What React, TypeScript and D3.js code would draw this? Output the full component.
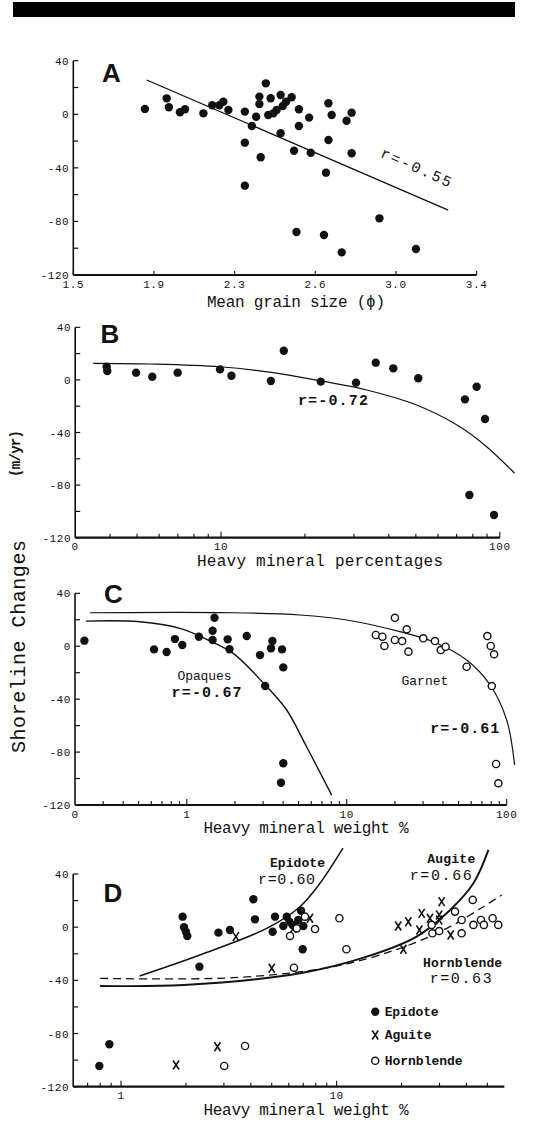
import React from 'react';
import * as d3 from 'd3';

const W = 549;
const H = 1122;
const MONO = '"Liberation Mono", "DejaVu Sans Mono", monospace';
const SANS = '"Liberation Sans", Arial, sans-serif';

// ---- panel A: mean grain size
const grainTicks = [1.5, 1.9, 2.3, 2.6, 3.0, 3.4];
const grainSize = [1.855, 1.963, 1.974, 2.029, 2.054, 2.145, 2.189, 2.224, 2.244, 2.269, 2.338, 2.38, 2.364, 2.338, 2.338, 2.397, 2.416, 2.392, 2.392, 2.434, 2.425, 2.444, 2.456, 2.471, 2.479, 2.491, 2.512, 2.471, 2.521, 2.539, 2.539, 2.53, 2.577, 2.583, 2.665, 2.681, 2.665, 2.653, 2.643, 2.731, 2.755, 2.78, 2.78, 2.918, 3.099];
const grainShore = [4, 11.9, 5.2, 1.5, 3.7, 0.7, 6.7, 6.7, 9.4, 3.2, 2, -1.8, -8.7, -21.2, -53.3, -32.1, 23.1, 13.2, 7.7, 12, -0.5, 0.7, 3.2, 14.4, 6.2, 9.4, 12.7, -14.2, -27.2, 3.7, -8.7, -87.9, -2.5, -28.7, 8.2, -0.5, -19.2, -43.6, -90.1, -103.1, -4.8, 1.2, -29.1, -77.7, -100.6];
const grainFitX = [1.864, 3.259];
const grainFitY = [25.6, -71.5];

// ---- panel B: heavy mineral percentages
const pctValue = [3.89, 3.91, 4.96, 5.67, 6.99, 9.92, 10.9, 15.1, 16.8, 22.8, 30.5, 35.9, 41.5, 51.0, 75.0, 82.6, 88.5, 77.8, 95.3];
const pctShore = [10, 6.8, 5.5, 2.4, 5.5, 8, 3.2, -0.8, 22.2, -1.3, -2.1, 13.1, 8.8, 1.2, -14.8, -5.2, -29.7, -87.5, -102.7];
const pctFitX = [3.48, 5.56, 9.92, 15.4, 22.8, 33.3, 50.3, 71.9, 89.7, 113];
const pctFitY = [12.6, 12.1, 10, 5.5, -0.8, -7.7, -19.1, -35.6, -50.8, -71];

// ---- panel C: opaques and garnet
const opqWeight = [0.229, 0.624, 0.748, 0.843, 0.937, 1.19, 1.49, 1.45, 1.45, 1.8, 1.85, 2.37, 2.87, 3.09, 3.43, 3.36, 3.94, 4.01, 4.01, 3.88];
const opqShore = [4.2, -2.4, -4.4, 5.4, 0.9, 7.2, 21.5, 11.7, 4.7, 5.2, -2.3, 7.7, -6.7, -30.1, 3.9, -1.6, -2.4, -16, -88.5, -103.2];
const grtWeight = [15.2, 16.7, 17.2, 20, 20, 22.2, 23.7, 24.3, 30.1, 35.6, 38.7, 41.5, 56.2, 75.7, 79.5, 83.4, 80.7, 85.8, 88.7];
const grtShore = [8.5, 7.2, 0.2, 21.5, 4.7, 3.9, 12.8, -4.1, 6, 3.9, -2.9, -0.4, -15.5, 7.7, 0.2, -6.1, -30.1, -89, -103.6];
const opqFitX = [0.234, 0.509, 0.907, 1.33, 1.95, 3.09, 4.21, 5.61, 8.05];
const opqFitY = [19, 18.5, 13.5, 5.2, -5.4, -29.3, -48.2, -76, -112.5];
const grtFitX = [0.248, 1.95, 5.1, 10, 21.5, 34.8, 56.2, 78.8, 100, 112];
const grtFitY = [25.3, 25.3, 23.6, 19.8, 11, 3.4, -10.4, -29.3, -55.8, -89.8];

// ---- panel D: epidote, augite, hornblende
const epiWeight = [1.93, 1.96, 2.0, 2.03, 2.31, 2.83, 3.2, 4.11, 4.18, 5.05, 5.18, 5.66, 5.87, 6.04, 6.25, 6.64, 6.84, 7.01, 6.96, 0.883, 0.793];
const epiShore = [7.9, -0.1, -3.4, -6.6, -29.7, -4.1, -2.1, 21, 5.9, -3.4, 7.9, 0.9, 7.9, 4.1, 1.7, 5.4, 12.4, 0.9, -16.6, -88.1, -104.4];
const augWeight = [3.41, 5.0, 6.3, 7.52, 19.3, 21.5, 20.4, 24.2, 24.8, 27.1, 30.7, 29.9, 29.9, 33.8, 1.8, 2.8];
const augShore = [-7.1, -30.9, -0.9, 6.7, 0.9, 4.1, -16.6, -2.1, 10.4, 6.7, 19.2, 9.2, 5.4, -5.9, -103.7, -89.9];
const hbWeight = [6.08, 6.34, 6.53, 7.13, 7.94, 10.3, 11.1, 27.6, 27.8, 29.9, 35.4, 38.0, 38.0, 42.8, 43.1, 46.7, 48.2, 52.9, 56.2, 3.76, 3.01];
const hbShore = [-6.6, -30.5, -0.9, 7.9, -1.4, 6.7, -16.6, 1.7, -4.6, -2.9, 11.7, 5.4, -4.6, 20.5, 1.7, 5.4, 1.7, 6.7, 1.7, -89.4, -104.4];
const epiFitX = [1.22, 2.32, 4.74, 6.76, 8.37, 10.7];
const epiFitY = [-36.7, -20.9, -0.9, 15.4, 33, 59.4];
const augFitX = [0.8, 1.95, 6.76, 13.8, 23.5, 33.6, 43.1, 50.6];
const augFitY = [-44.2, -43.5, -34.7, -22.2, -7.1, 12.9, 33, 58.1];
const hbFitX = [0.8, 3.32, 9.65, 19.7, 33.6, 47.9, 58.3];
const hbFitY = [-38.5, -38, -29.7, -15.9, 0.4, 15.4, 24.2];

const yTicks = [40, 20, 0, -20, -40, -60, -80, -100, -120];
const yLabels = [40, 0, -40, -80, -120];

const bTicks = [4, 5, 6, 7, 8, 9, 10, 20, 30, 40, 50, 60, 70, 80, 90, 100];
const cTicks = [0.3, 0.4, 0.5, 0.6, 0.7, 0.8, 0.9, 1, 2, 3, 4, 5, 6, 7, 8, 9, 10, 20, 30, 40, 50, 60, 70, 80, 90, 100];
const dTicks = [0.7, 0.8, 0.9, 1, 2, 3, 4, 5, 6, 7, 8, 9, 10, 20, 30, 40, 50];

type Pt = [number, number];
type Sc = (v: number) => number;
const zip = (a: number[], b: number[]): Pt[] => a.map((v, i) => [v, b[i]]);
const yScale = (top: number, bottom: number) => d3.scaleLinear().domain([-120, 40]).range([bottom, top]);

const xA = d3.scaleLinear().domain(grainTicks).range(grainTicks.map((_, i) => 73.3 + i * 80.67));
const yA = yScale(60.7, 275);
const xB = d3.scaleLog().domain([3, 100]).range([75.2, 499.8]);
const yB = yScale(327.3, 537.7);
const xC = d3.scaleLog().domain([0.2, 100]).range([75, 506.7]);
const yC = yScale(593.3, 805);
const xD = d3.scaleLog().domain([0.6, 60]).range([73.2, 504.4]);
const yD = yScale(874, 1086.7);

function Axes({ x, y, ticks, labels, major }: { x: any; y: any; ticks: number[]; labels: { v: number; t: string }[]; major: number[] }) {
  const x0 = x.range()[0];
  const x1 = x.range()[x.range().length - 1];
  const yb = y(-120);
  return (
    <g stroke="#111" fill="none">
      <line x1={x0} x2={x0} y1={y(40)} y2={yb} strokeWidth={1.6} />
      {yTicks.map(t => (
        <line key={t} x1={x0} x2={x0 + 5} y1={y(t)} y2={y(t)} strokeWidth={1.2} />
      ))}
      {yLabels.map(t => (
        <text key={t} x={x0 - 4} y={y(t) + 4} textAnchor="end" fontFamily={MONO} fontSize={11} fill="#111" stroke="none" letterSpacing={0.6}>
          {t}
        </text>
      ))}
      <line x1={x0} x2={x1} y1={yb} y2={yb} strokeWidth={2.2} />
      {ticks.map(t => (
        <line key={t} x1={x(t)} x2={x(t)} y1={yb} y2={yb - (major.includes(t) ? 6 : 4)} strokeWidth={1.1} />
      ))}
      {labels.map(l => (
        <text key={l.t} x={x(l.v)} y={yb + 12.5} textAnchor="middle" fontFamily={MONO} fontSize={11} fill="#111" stroke="none" letterSpacing={0.6}>
          {l.t}
        </text>
      ))}
    </g>
  );
}

function Dots({ pts, x, y, kind }: { pts: Pt[]; x: Sc; y: Sc; kind: 'fill' | 'open' | 'cross' }) {
  return (
    <g>
      {pts.map(([a, b], i) => {
        const cx = x(a);
        const cy = y(b);
        if (kind === 'cross')
          return <path key={i} d={`M${cx - 3},${cy - 4.5}L${cx + 3},${cy + 4.5}M${cx + 3},${cy - 4.5}L${cx - 3},${cy + 4.5}`} stroke="#111" strokeWidth={1.6} fill="none" />;
        if (kind === 'open') return <circle key={i} cx={cx} cy={cy} r={3.6} fill="#fff" stroke="#111" strokeWidth={1.4} />;
        return <circle key={i} cx={cx} cy={cy} r={4.2} fill="#111" />;
      })}
    </g>
  );
}

function Fit({ xs, ys, x, y, width = 1.2, dash }: { xs: number[]; ys: number[]; x: Sc; y: Sc; width?: number; dash?: string }) {
  const line = d3.line<Pt>().x(d => x(d[0])).y(d => y(d[1])).curve(d3.curveCatmullRom.alpha(0.5));
  return <path d={line(zip(xs, ys)) || ''} fill="none" stroke="#111" strokeWidth={width} strokeDasharray={dash} />;
}

function Note({ x, y, t, len, size = 14, bold = true, rotate = 0 }: { x: number; y: number; t: string; len?: number; size?: number; bold?: boolean; rotate?: number }) {
  return (
    <text x={x} y={y} textAnchor="middle" fontFamily={MONO} fontSize={size} fontWeight={bold ? 'bold' : 'normal'} fill="#111"
      textLength={len} lengthAdjust="spacing" transform={rotate ? `rotate(${rotate},${x},${y})` : undefined}>
      {t}
    </text>
  );
}

const Letter = ({ x, y, t }: { x: number; y: number; t: string }) => (
  <text x={x} y={y} textAnchor="middle" fontFamily={SANS} fontWeight="bold" fontSize={26} fill="#111">{t}</text>
);

export default function App() {
  return (
    <div style={{ position: 'absolute', left: 0, top: 0, background: '#fff' }}>
      <svg width={W} height={H} viewBox={`0 0 ${W} ${H}`} style={{ display: 'block' }}>
        <rect x={0} y={0} width={W} height={H} fill="#fff" />
        <rect x={13} y={2} width={502} height={15} fill="#000" />

        {/* A */}
        <Axes x={xA} y={yA} ticks={grainTicks} labels={grainTicks.map(v => ({ v, t: v.toFixed(1) }))} major={[]} />
        <Fit xs={grainFitX} ys={grainFitY} x={xA} y={yA} width={1.3} />
        <Dots pts={zip(grainSize, grainShore)} x={xA} y={yA} kind="fill" />
        <Letter x={111.5} y={82} t="A" />
        <Note x={xA(3.09)} y={yA(-43)} t="r=-0.55" len={76} size={15} bold={false} rotate={24} />
        <Note x={296} y={307} t="Mean grain size (ϕ)" len={178} size={16} bold={false} />

        {/* B */}
        <Axes x={xB} y={yB} ticks={bTicks} labels={[{ v: 3, t: '0' }, { v: 10, t: '10' }, { v: 100, t: '100' }]} major={[10, 100]} />
        <Fit xs={pctFitX} ys={pctFitY} x={xB} y={yB} />
        <Dots pts={zip(pctValue, pctShore)} x={xB} y={yB} kind="fill" />
        <Letter x={110} y={343} t="B" />
        <Note x={xB(25.2)} y={yB(-19.1)} t="r=-0.72" len={70} size={15} />
        <Note x={320} y={566} t="Heavy mineral percentages" len={246} size={16} bold={false} />

        {/* C */}
        <Axes x={xC} y={yC} ticks={cTicks} labels={[{ v: 0.2, t: '0' }, { v: 1, t: '1' }, { v: 10, t: '10' }, { v: 100, t: '100' }]} major={[1, 10, 100]} />
        <Fit xs={opqFitX} ys={opqFitY} x={xC} y={yC} width={1.4} />
        <Fit xs={grtFitX} ys={grtFitY} x={xC} y={yC} width={1.2} />
        <Dots pts={zip(opqWeight, opqShore)} x={xC} y={yC} kind="fill" />
        <Dots pts={zip(grtWeight, grtShore)} x={xC} y={yC} kind="open" />
        <Letter x={113.3} y={603} t="C" />
        <Note x={xC(1.29)} y={yC(-25.5)} t="Opaques" len={54} size={13} bold={false} />
        <Note x={xC(1.33)} y={yC(-38.2)} t="r=-0.67" len={70} size={15} />
        <Note x={xC(30.8)} y={yC(-29.3)} t="Garnet" len={47} size={13} bold={false} />
        <Note x={xC(54.6)} y={yC(-65.8)} t="r=-0.61" len={69} size={15} />
        <Note x={306} y={833} t="Heavy mineral weight %" len={205} size={16} bold={false} />

        {/* D */}
        <Axes x={xD} y={yD} ticks={dTicks} labels={[{ v: 1, t: '1' }, { v: 10, t: '10' }]} major={[1, 10]} />
        <Fit xs={epiFitX} ys={epiFitY} x={xD} y={yD} width={1.5} />
        <Fit xs={augFitX} ys={augFitY} x={xD} y={yD} width={1.9} />
        <Fit xs={hbFitX} ys={hbFitY} x={xD} y={yD} width={1.3} dash="8,5" />
        <Dots pts={zip(epiWeight, epiShore)} x={xD} y={yD} kind="fill" />
        <Dots pts={zip(augWeight, augShore)} x={xD} y={yD} kind="cross" />
        <Dots pts={zip(hbWeight, hbShore)} x={xD} y={yD} kind="open" />
        <Letter x={113} y={902} t="D" />
        <Note x={xD(6.58)} y={yD(45)} t="Epidote" len={55} size={13} />
        <Note x={xD(5.86)} y={yD(32.3)} t="r=0.60" len={57} size={15} bold={false} />
        <Note x={xD(34)} y={yD(48.5)} t="Augite" len={48} size={13} />
        <Note x={xD(30.4)} y={yD(35.5)} t="r=0.66" len={62} size={15} bold={false} />
        <Note x={xD(38.4)} y={yD(-29.7)} t="Hornblende" len={79} size={13} />
        <Note x={xD(37.6)} y={yD(-41.8)} t="r=0.63" len={62} size={15} bold={false} />
        <Dots pts={[[15.1, -63.6]]} x={xD} y={yD} kind="fill" />
        <Dots pts={[[15.1, -81.1]]} x={xD} y={yD} kind="cross" />
        <Dots pts={[[15.1, -100.5]]} x={xD} y={yD} kind="open" />
        {[['Epidote', -63.6, 54], ['Aguite', -81.1, 47], ['Hornblende', -100.5, 78]].map(([t, v, len]) => (
          <text key={t as string} x={xD(16.7)} y={yD(v as number) + 4.5} fontFamily={MONO} fontSize={13} fontWeight="bold" fill="#111"
            textLength={len as number} lengthAdjust="spacing">{t}</text>
        ))}
        <Note x={306} y={1115} t="Heavy mineral weight %" len={205} size={16} bold={false} />

        {/* shared y label */}
        <text transform="translate(25,646.5) rotate(-90)" textAnchor="middle" fontFamily={MONO} fontSize={20} fill="#111" textLength={213} lengthAdjust="spacing">
          Shoreline Changes
        </text>
        <text transform="translate(20,453.5) rotate(-90)" textAnchor="middle" fontFamily={MONO} fontSize={14} fontWeight="bold" fill="#111" textLength={47} lengthAdjust="spacing">
          (m/yr)
        </text>
      </svg>
    </div>
  );
}
